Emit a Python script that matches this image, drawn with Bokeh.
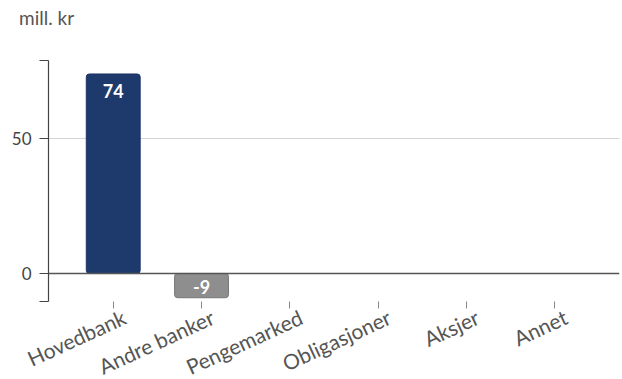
from bokeh.plotting import figure
from bokeh.layouts import column
from bokeh.models import (ColumnDataSource, Range1d, FixedTicker,
                          Span, LinearAxis, Div)
from bokeh.core.properties import value
from bokeh.embed import file_html
from bokeh.resources import INLINE

# Chart data
categories = ["Hovedbank", "Andre banker", "Pengemarked", "Obligasjoner", "Aksjer", "Annet"]
values = [74, -9, 0, 0, 0, 0]
y_ticks = [0, 50]
unit_label = "mill. kr"

NAVY = "#1e3a6d"
GREY = "#8e8e8e"
FONT = "Lato"

y_min, y_max = -10.4, 79
x_pad = 0.233        # padding (in category widths) on each side of the category slots
label_shift = 0.125  # slanted labels end a little to the right of their tick

n = len(categories)
slots = [i + 0.5 for i in range(n)]   # centre of each category slot

p = figure(
    frame_width=571, frame_height=241,
    x_range=Range1d(-x_pad, n + x_pad),
    y_range=Range1d(y_min, y_max),
    output_backend="svg", toolbar_location=None,
    min_border_left=48, min_border_right=3, min_border_top=25, min_border_bottom=70,
    margin=0,
)

p.outline_line_color = None
p.background_fill_color = "white"
p.border_fill_color = "white"

# Bars
shown = [v != 0 for v in values]
src = ColumnDataSource(dict(
    x=[s for s, k in zip(slots, shown) if k],
    val=[v for v, k in zip(values, shown) if k],
    color=[(NAVY if v > 0 else GREY) for v, k in zip(values, shown) if k],
    line=[("#1a3363" if v > 0 else "#777777") for v, k in zip(values, shown) if k],
    txt=[str(v) for v, k in zip(values, shown) if k],
    yoff=[17 if v > 0 else -11 for v, k in zip(values, shown) if k],
))
p.vbar(x="x", top="val", bottom=0, width=0.61, source=src,
       fill_color="color", line_color="line", line_width=1, border_radius=3)

# Value labels inside the bars
p.text(x="x", y="val", text="txt", y_offset="yoff", source=src,
       text_align="center", text_baseline="middle",
       text_font=value(FONT), text_font_size="18px", text_font_style="bold",
       text_color="white")

# Zero line
p.add_layout(Span(location=0, dimension="width", line_color="#555555", line_width=1.5))

# Grid
p.xgrid.grid_line_color = None
p.ygrid.ticker = FixedTicker(ticks=[50])
p.ygrid.grid_line_color = "#d4d4d4"
p.ygrid.grid_line_width = 1

# Y axis: ticks at 0 and 50 plus end caps at the range limits
p.yaxis.ticker = FixedTicker(ticks=[y_min] + y_ticks + [y_max])
p.yaxis.major_label_overrides = {y_min: "", y_max: ""}
p.yaxis.axis_line_color = "#444444"
p.yaxis.axis_line_width = 1.2
p.yaxis.major_tick_line_color = "#444444"
p.yaxis.major_tick_line_width = 1.2
p.yaxis.major_tick_in = 0
p.yaxis.major_tick_out = 9
p.yaxis.minor_tick_line_color = None
p.yaxis.major_label_text_font = FONT
p.yaxis.major_label_text_font_size = "17px"
p.yaxis.major_label_text_color = "#444444"
p.yaxis.major_label_standoff = 8

# X axis: a tick at each category slot, hidden line; the labels go on a second axis
p.xaxis.ticker = FixedTicker(ticks=slots)
p.xaxis.axis_line_color = None
p.xaxis.major_tick_line_color = "#888888"
p.xaxis.major_tick_line_width = 1
p.xaxis.major_tick_in = 0
p.xaxis.major_tick_out = 7
p.xaxis.minor_tick_line_color = None
p.xaxis.major_label_overrides = {s: "" for s in slots}
p.xaxis.major_label_text_font_size = "1px"
p.xaxis.major_label_standoff = 0

# Label axis: same slots, shifted slightly so each slanted label ends just
# right of its tick
p.extra_x_ranges = {"labels": Range1d(-x_pad - label_shift, n + x_pad - label_shift)}
lab_axis = LinearAxis(x_range_name="labels", ticker=FixedTicker(ticks=slots),
                      major_label_overrides=dict(zip(slots, categories)))
lab_axis.axis_line_color = None
lab_axis.major_tick_line_color = None
lab_axis.minor_tick_line_color = None
lab_axis.major_label_orientation = 0.43
lab_axis.major_label_standoff = 1
lab_axis.major_label_text_font = FONT
lab_axis.major_label_text_font_size = "21px"
lab_axis.major_label_text_color = "#555555"
p.add_layout(lab_axis, "below")

# Unit text above the plot
unit = Div(text=unit_label, width=622, height=35, margin=0,
           styles={"font-family": FONT, "font-size": "19px", "color": "#555555",
                   "padding-left": "19px", "padding-top": "7px",
                   "line-height": "22px"})

layout = column(unit, p, spacing=0, margin=0)

with open("out.html", "w") as f:
    f.write(file_html(layout, INLINE))
